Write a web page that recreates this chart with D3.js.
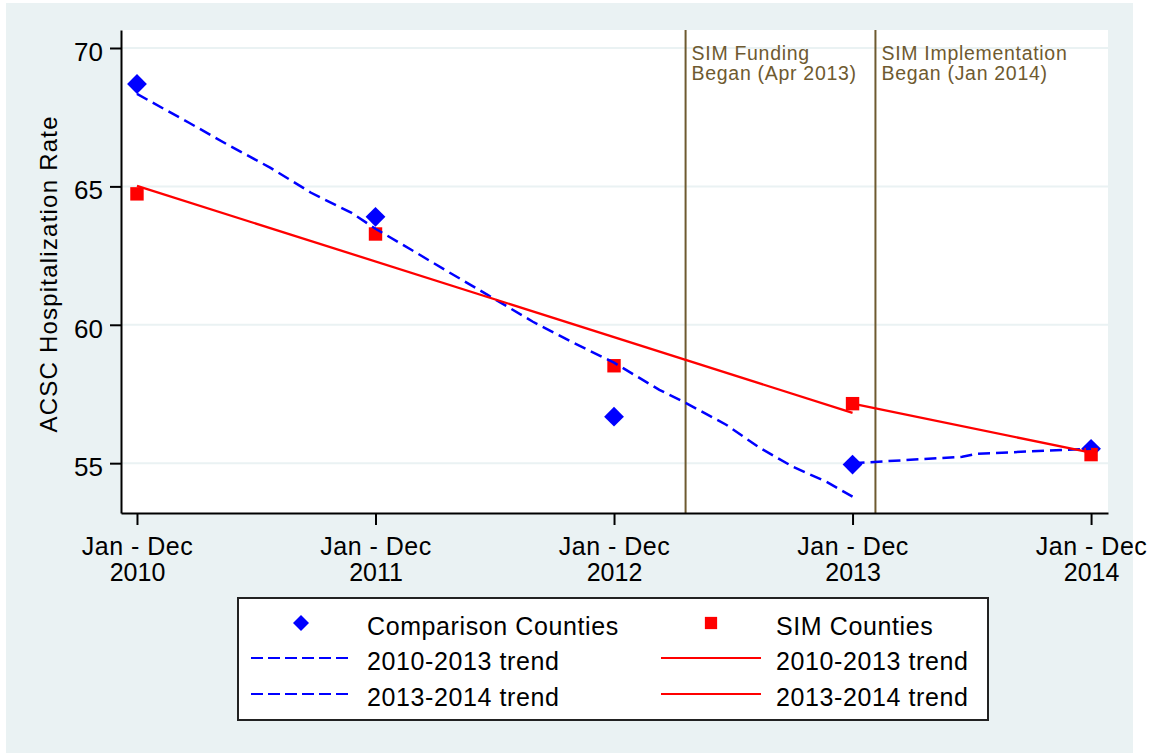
<!DOCTYPE html>
<html>
<head>
<meta charset="utf-8">
<script src="https://cdn.jsdelivr.net/npm/d3@7"></script>
<style>
  body { margin: 0; background: #fff; }
  text { font-family: "Liberation Sans", Arial, sans-serif; }
</style>
</head>
<body>
<svg id="chart" width="1157" height="753"></svg>
<script>
// data
const years = [2010, 2011, 2012, 2013, 2014];
const xLabelTop = ["Jan - Dec", "Jan - Dec", "Jan - Dec", "Jan - Dec", "Jan - Dec"];
const yTicks = [55, 60, 65, 70];

const comparison = [68.70, 63.90, 56.68, 54.95, 55.52];
const simCounties = [64.73, 63.28, 58.52, 57.15, 55.31];

// trend lines (x = year position, y = rate)
const compTrend1013 = [
  [2010.00, 68.34], [2010.22, 67.29], [2010.39, 66.46], [2010.56, 65.67],
  [2010.73, 64.77], [2010.90, 64.04], [2011.00, 63.47], [2011.15, 62.71],
  [2011.29, 61.99], [2011.47, 61.08], [2011.66, 60.11], [2011.83, 59.35],
  [2012.00, 58.63], [2012.19, 57.65], [2012.30, 57.18], [2012.47, 56.39],
  [2012.61, 55.56], [2012.75, 54.87], [2012.89, 54.33], [2013.00, 53.79]
];
const compTrend1314 = [[2013.00, 55.00], [2013.46, 55.23], [2013.52, 55.34], [2014.00, 55.52]];
const simTrend1013 = [[2010.00, 65.02], [2013.00, 56.82]];
const simTrend1314 = [[2013.00, 57.15], [2014.00, 55.38]];

const eventX = [2012.30, 2013.096];
const eventLabels = [["SIM Funding", "Began (Apr 2013)"], ["SIM Implementation", "Began (Jan 2014)"]];

const legendLabels = ["Comparison Counties", "SIM Counties", "2010-2013 trend", "2010-2013 trend", "2013-2014 trend", "2013-2014 trend"];

const svg = d3.select("#chart");
const blue = "#0000ff", red = "#ff0000", brown = "#6e5a30";

// outer region
svg.append("rect").attr("x", 6).attr("y", 3).attr("width", 1127).attr("height", 750).attr("fill", "#eaf2f3");

const plot = {left: 121, top: 30, right: 1108, bottom: 513};
svg.append("rect")
  .attr("x", plot.left).attr("y", plot.top)
  .attr("width", plot.right - plot.left).attr("height", plot.bottom - plot.top)
  .attr("fill", "#fff");

const x = d3.scaleLinear().domain([2009.933, 2014.071]).range([plot.left, plot.right]);
const y = d3.scaleLinear().domain([53.2, 70.65]).range([plot.bottom, plot.top]);

// grid lines
svg.append("g").selectAll("line")
  .data(yTicks)
  .enter()
  .append("line")
  .attr("x1", plot.left).attr("x2", plot.right)
  .attr("y1", d => y(d)).attr("y2", d => y(d))
  .attr("stroke", "#eaf2f3").attr("stroke-width", 2);

// event lines + labels
const ev = svg.append("g");
ev.selectAll("line")
  .data(eventX)
  .enter()
  .append("line")
  .attr("x1", d => x(d)).attr("x2", d => x(d))
  .attr("y1", plot.top).attr("y2", plot.bottom)
  .attr("stroke", brown).attr("stroke-width", 2);
eventX.forEach((ex, i) => {
  const t = ev.append("text")
    .attr("fill", brown).attr("font-size", 19.5).attr("letter-spacing", 0.7);
  eventLabels[i].forEach((s, j) => {
    t.append("tspan").attr("x", x(ex) + 6).attr("y", 60 + j * 20).text(s);
  });
});

// axes
const yAxis = svg.append("g")
  .attr("transform", `translate(${plot.left},0)`)
  .call(d3.axisLeft(y).tickValues(yTicks).tickSize(11).tickSizeOuter(0).tickPadding(7));
yAxis.selectAll("text").attr("font-size", 26).attr("dy", "0.48em").attr("fill", "#000")
  .style("font-family", "'Liberation Sans', Arial, sans-serif");

const xAxis = svg.append("g")
  .attr("transform", `translate(0,${plot.bottom})`)
  .call(d3.axisBottom(x).tickValues(years).tickSize(12).tickSizeOuter(0));
xAxis.selectAll("text").remove();
xAxis.selectAll(".tick").append("text")
  .attr("text-anchor", "middle").attr("font-size", 25).attr("fill", "#000")
  .style("font-family", "'Liberation Sans', Arial, sans-serif")
  .each(function(d, i) {
    const t = d3.select(this);
    t.append("tspan").attr("x", 0).attr("y", 42).attr("letter-spacing", 0.5).text(xLabelTop[i]);
    t.append("tspan").attr("x", 0).attr("y", 68).text(d);
  });

[yAxis, xAxis].forEach(a => {
  a.select(".domain").attr("stroke", "#000").attr("stroke-width", 2);
  a.selectAll(".tick line").attr("stroke", "#000").attr("stroke-width", 2);
});

svg.append("text")
  .attr("transform", `translate(57,${(plot.top + plot.bottom) / 2 + 3}) rotate(-90)`)
  .attr("text-anchor", "middle").attr("font-size", 24)
  .attr("textLength", 316).attr("lengthAdjust", "spacing")
  .text("ACSC Hospitalization Rate");

// markers
const diamond = d3.symbol().type(d3.symbolDiamond2);
const square = d3.symbol().type(d3.symbolSquare);

svg.append("g").selectAll("path")
  .data(comparison)
  .enter()
  .append("path")
  .attr("d", diamond.size(250)())
  .attr("transform", (d, i) => `translate(${x(years[i])},${y(d)})`)
  .attr("fill", blue);

svg.append("g").selectAll("path")
  .data(simCounties)
  .enter()
  .append("path")
  .attr("d", square.size(180)())
  .attr("transform", (d, i) => `translate(${x(years[i])},${y(d)})`)
  .attr("fill", red);

// trend lines
const line = d3.line().x(d => x(d[0])).y(d => y(d[1]));
[compTrend1013, compTrend1314].forEach(tr => {
  svg.append("path").datum(tr).attr("d", line)
    .attr("fill", "none").attr("stroke", blue).attr("stroke-width", 2.5)
    .attr("stroke-dasharray", "12,6");
});
[simTrend1013, simTrend1314].forEach(tr => {
  svg.append("path").datum(tr).attr("d", line)
    .attr("fill", "none").attr("stroke", red).attr("stroke-width", 2.3);
});

// legend
const lg = svg.append("g");
lg.append("rect").attr("x", 238).attr("y", 598).attr("width", 750).attr("height", 122)
  .attr("fill", "#fff").attr("stroke", "#222").attr("stroke-width", 2);

const rowY = [623, 658, 694];
const colKeyX = [301, 711];
const colTextX = [367, 776];
const colColor = [blue, red];

legendLabels.forEach((lab, i) => {
  const col = i % 2, row = Math.floor(i / 2);
  if (row === 0) {
    lg.append("path")
      .attr("d", col === 0 ? diamond.size(162)() : square.size(150)())
      .attr("transform", `translate(${colKeyX[col]},${rowY[0]})`)
      .attr("fill", colColor[col]);
  } else {
    const k = lg.append("line")
      .attr("x1", colKeyX[col] - 50).attr("x2", colKeyX[col] + 50)
      .attr("y1", rowY[row]).attr("y2", rowY[row])
      .attr("stroke", colColor[col]).attr("stroke-width", 2);
    if (col === 0) k.attr("stroke-dasharray", "12,5");
  }
  lg.append("text")
    .attr("x", colTextX[col]).attr("y", rowY[row] + 12)
    .attr("font-size", 25).attr("letter-spacing", 0.6)
    .text(lab);
});
</script>
</body>
</html>
